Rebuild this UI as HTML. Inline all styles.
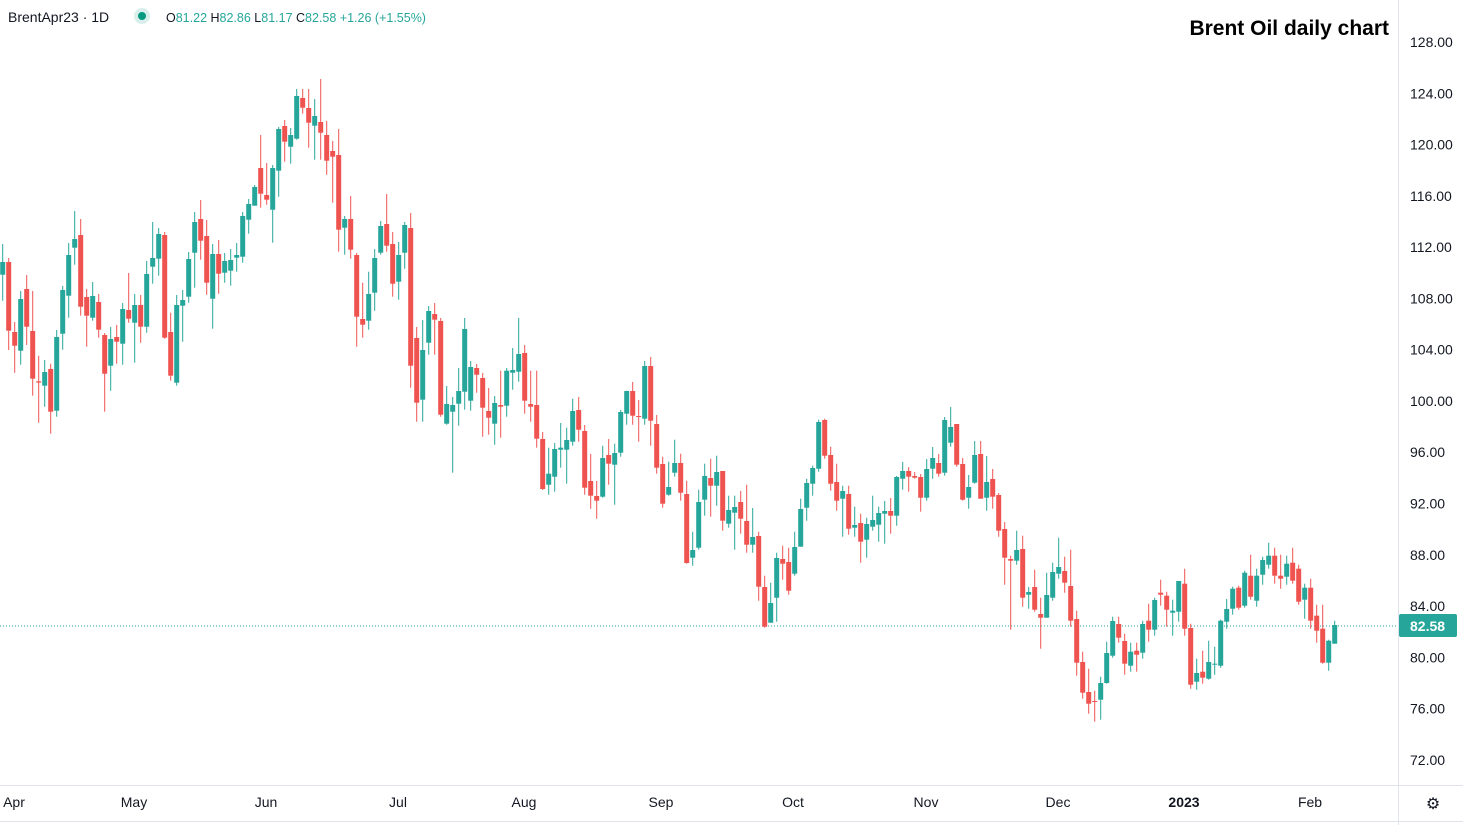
<!DOCTYPE html>
<html><head><meta charset="utf-8"><style>
html,body{margin:0;padding:0;background:#fff;}
body{width:1463px;height:825px;overflow:hidden;position:relative;font-family:"Liberation Sans",sans-serif;}
svg{position:absolute;left:0;top:0;}
</style></head><body>
<svg id="s" width="1463" height="825" xmlns="http://www.w3.org/2000/svg">
<line x1="1398.5" y1="0" x2="1398.5" y2="825" stroke="#e0e3eb"/>
<line x1="0" y1="785.5" x2="1463" y2="785.5" stroke="#e0e3eb"/>
<line x1="0" y1="821.5" x2="1463" y2="821.5" stroke="#e0e3eb"/>
<line x1="0" y1="626" x2="1398" y2="626" stroke="#26a69a" stroke-dasharray="1,2" stroke-width="1"/>
<g id="c"></g>
<g font-size="14" fill="#131722" text-anchor="middle">
<text x="14" y="807">Apr</text><text x="134" y="807">May</text><text x="266" y="807">Jun</text><text x="398" y="807">Jul</text><text x="524" y="807">Aug</text><text x="661" y="807">Sep</text><text x="793" y="807">Oct</text><text x="926" y="807">Nov</text><text x="1058" y="807">Dec</text><text x="1184" y="807" font-weight="bold">2023</text><text x="1310" y="807">Feb</text>
</g>
<g id="p" font-size="14" fill="#131722"></g>
<rect x="1399" y="614" width="58" height="23" rx="2" fill="#26a69a"/>
<text x="1410" y="631" font-size="14" font-weight="bold" fill="#fff">82.58</text>
<text x="1433" y="809" font-size="16" fill="#131722" text-anchor="middle">⚙</text>
<text x="8" y="22" font-size="14" fill="#131722">BrentApr23 · 1D</text>
<circle cx="142" cy="16" r="8" fill="#d9efec"/><circle cx="142" cy="16" r="4" fill="#089981"/>
<text x="166" y="22" font-size="12.5" fill="#26a69a"><tspan fill="#131722">O</tspan>81.22 <tspan fill="#131722">H</tspan>82.86 <tspan fill="#131722">L</tspan>81.17 <tspan fill="#131722">C</tspan>82.58 +1.26 (+1.55%)</text>
<text x="1389" y="35" font-size="21" font-weight="bold" fill="#000" text-anchor="end">Brent Oil daily chart</text>
</svg>
<script>
var A=[70,"G576-614,522-692|R576-782,564-840|R786-827,756-908|G687-842,663-884|R657-770,615-825|R783-926,663-977|R934-938,857-1058|G906-947,870-1010|R897-1025,881-1091|G801-1022,780-1040|G660-791,648-839|G555-677,519-743|G507-533,423-584|R495-710,447-737|R681-737,657-830|G678-743,636-752|R696-779,672-803|R795-911,789-1025|G807-887,771-962|R801-815,765-881|G717-821,699-884|R720-746,609-758|G705-758,672-878|R705-770,675-818|G612-770,573-788|G564-590,456-641|G492-566,474-617|R495-803,486-806|R786-917,728-932|G705-938,675-947|G690-707,660-815|G567-680,546-698|G456-548,426-653|R447-512,390-569|R498-638,450-674|G552-686,522-776|R552-611,510-671|G573-608,549-638|G570-602,537-647|G555-563,519-605|G438-560,426-578|G402-449,387-491|G351-407,345-407|R294-371,195-413|R375-389,279-404|G294-419,285-518|G177-302,171-380|R168-215,150-275|G195-230,174-281|G78-206,57-209|R84-113,57-131|R114-158,57-233|G138-167,87-269|R156-188,27-269|R195-272,153-314|R243-260,213-398|R255-479,177-545|G447-473,438-554|R447-539,378-566|R555-740,549-830|R747-764,638-803|G672-752,605-779|G564-668,537-722|G468-548,453-554|R462-527,372-545|R522-641,486-680|G555-635,516-689|G465-548,456-596|R474-887,429-953"];
var B=[300,"R114-308,81-365|G150-299,60-365|G33-128,18-164|R42-59,9-164|R63-344,54-350|G312-371,258-374|G315-335,291-518|G273-311,204-377|G87-275,54-329|G201-302,183-332|R204-224,192-278|R234-323,219-410|R333-353,264-404|G309-371,288-434|R315-320,212-413|G212-317,204-350|G210-218,144-269|G162-215,54-245|R159-302,135-341|R312-320,212-365|R315-416,212-443|R417-567,396-570|G521-554,443-584|G447-530,429-575|G443-449,369-503|G420-449,383-551|G333-425,296-437|R330-389,291-425|R393-563,375-584|R543-587,462-626|R588-602,543-656|G474-590,437-593|R465-491,417-554|G459-494,431-614|G336-458,330-470|G273-341,272-374|R273-347,246-374|R348-350,300-425|G198-356,183-374|R198-362,171-437|R372-503,345-521|R492-611,470-623|G561-584,485-587|G489-518,419-530|R489-578,461-602|R582-789,542-791|G750-773,695-797|G606-743,569-749|G528-599,491-647|R534-557,476-650|G516-557,467-617|R513-662,513-692|G630-671,587-683|G621-638,587-749|R606-656,573-701|R663-734,554-758|G711-734,624-758|R708-860,695-902|R861-980,827-983|G909-968,848-968|G774-893,758-965|R777-791,737-839|R786-872,743-884|G741-821,695-827|G627-740,596-740|G549-623,536-662|G504-551,497-587|G366-506,359-515|R360-467,356-476|R465-551,440-572|R546-602,491-632|G573-596,557-710|R582-686,557-704|G675-683,620-710|R669-725,641-788|G672-719,653-773|G660-680,587-692|G639-674,620-725"];
var C=[400,"G333-341,303-431|R333-347,294-401|G231-347,228-377|G213-236,186-269|R213-230,201-275|R228-233,216-236|R231-293,222-335|G207-293,177-302|G174-206,141-236|R189-221,162-230|G60-218,51-227|G81-128,21-140|R72-194,72-200|R192-299,174-302|G261-293,225-326|G165-248,123-251|R162-296,123-296|G246-293,168-332|R237-290,207-326|R285-392,279-410|R387-473,366-554|R477-482,467-689|G450-482,392-494|R447-593,407-620|G576-584,561-626|R561-629,509-635|R642-653,593-746|G585-653,518-653|G516-593,488-602|G501-521,413-536|R513-548,470-578|R558-662,449-680|R657-788,632-827|R786-878,755-896|R876-911,806-941|R903-905,872-965|G849-899,830-959|G759-849,725-851|G663-767,650-773|R672-713,650-728|R723-791,701-824|G755-797,728-815|R752-764,728-815|G672-758,662-776|R662-689,611-725|G600-689,593-707|R578-584,539-617|R587-629,575-680|G632-638,599-707|G543-635,543-665|R551-686,506-707|R684-854,671-866|G819-845,776-869|R815-833,752-851|G786-836,722-839|G791-794,740-824|G662-797,659-803|G627-665,597-686|G566-626,560-644|R563-623,557-629|G518-617,512-623|R527-590,464-599|G527-602,506-620|G480-524,470-554|G467-494,428-506|R467-527,443-551|R527-536,464-566|G491-530,467-554|R488-542,443-551|R506-605,494-614|G563-599,551-656|R563-662,536-686|R647-692,614-728|R686-788,614-791|G722-788,719-812|G675-731,662-731"];
var out="";
function parse(g,start){var off=g[0],arr=g[1].split("|");for(var k=0;k<arr.length;k++){var s=arr[k],c=s[0]=="G"?"#26a69a":"#ef5350";
var p=s.slice(1).split(",");var b=p[0].split("-"),w=p[1].split("-");var bt=off+b[0]/3,bb=off+b[1]/3;var ht=off+w[0]/3,hb=off+w[1]/3;
var i=start+k,x=2.7+6*i;if(bb-bt<1)bb=bt+1;
out+='<line x1="'+x.toFixed(1)+'" x2="'+x.toFixed(1)+'" y1="'+ht.toFixed(1)+'" y2="'+hb.toFixed(1)+'" stroke="'+c+'" stroke-width="1"/>';
out+='<rect x="'+(x-2.5).toFixed(1)+'" y="'+bt.toFixed(1)+'" width="5" height="'+(bb-bt).toFixed(1)+'" fill="'+c+'"/>';}}
parse(A,0);parse(B,69);parse(C,147);
document.getElementById("c").innerHTML=out;
var pp="";for(var v=128;v>=72;v-=4){var y=42+(128-v)*12.82;pp+='<text x="1410" y="'+(y+5).toFixed(1)+'">'+v.toFixed(2)+'</text>';}
document.getElementById("p").innerHTML=pp;
</script>
</body></html>
